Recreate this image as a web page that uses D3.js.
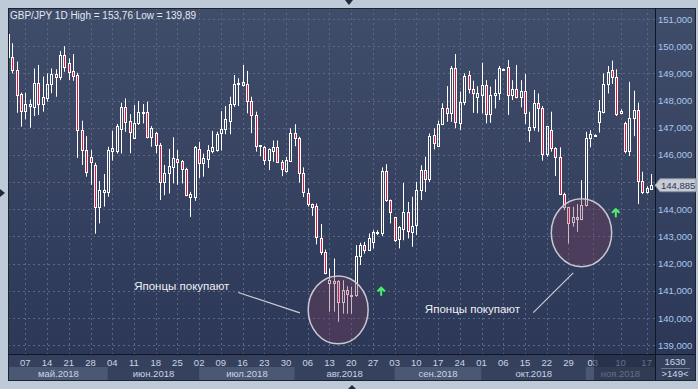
<!DOCTYPE html>
<html lang="ru">
<head>
<meta charset="UTF-8">
<title>GBP/JPY 1D</title>
<script src="https://d3js.org/d3.v7.min.js"></script>
<style>
    body {
        margin: 0;
        padding: 0;
        background-color: #bfcad8;
        overflow: hidden;
    }
    svg {
        display: block;
        font-family: 'Liberation Sans', Arial, sans-serif;
    }
</style>
</head>
<body>
<div id="chart"></div>
<script>
// daily candles, 1 May 2018 .. late Nov 2018
var opens = [150.45,149.59,149.12,148.24,147.63,147.80,147.77,148.66,147.87,148.08,
    148.61,148.98,148.85,149.67,149.37,149.08,148.94,146.91,146.17,145.91,
    145.63,144.07,144.65,144.65,146.15,146.15,146.94,147.75,147.26,146.64,
    147.16,147.59,147.57,146.67,146.79,146.38,144.99,145.34,145.56,145.85,
    145.77,145.50,144.46,144.46,146.20,145.72,145.85,146.16,146.18,146.82,
    146.94,147.26,147.87,148.61,148.57,148.61,147.99,147.47,146.34,146.28,
    145.83,146.16,146.28,145.75,145.42,145.79,146.82,146.64,145.32,144.61,
    144.19,144.12,142.93,142.43,141.27,141.27,141.35,140.59,141.02,140.85,
    140.84,142.28,142.70,142.52,142.80,143.13,143.13,145.42,144.34,143.70,
    142.89,143.29,143.91,143.17,143.42,144.70,145.44,145.10,146.73,146.33,
    147.13,147.71,147.53,149.18,147.16,147.96,148.94,148.41,148.12,148.20,
    148.57,147.50,148.20,148.29,149.16,149.22,148.20,148.41,148.12,148.35,
    146.91,147.01,147.92,147.71,146.03,146.91,146.24,145.93,144.58,144.07,
    143.54,143.72,143.63,144.15,146.61,146.74,147.22,147.59,148.61,149.12,
    148.85,147.53,147.18,146.15,147.34,147.65,145.05,144.64,144.73];
var highs = [150.50,150.11,149.43,148.29,148.29,148.04,149.18,149.31,148.88,149.00,
    149.18,149.15,149.82,150.00,149.55,149.71,149.02,147.26,146.69,146.18,
    145.71,145.04,145.30,146.30,146.89,147.14,147.92,148.08,147.50,147.83,
    147.98,147.87,147.96,147.06,146.85,146.44,145.63,146.22,146.65,146.18,
    145.81,145.53,144.64,146.33,146.48,146.05,146.36,146.88,146.85,147.61,
    147.80,148.14,148.94,148.82,149.31,149.09,148.14,147.59,146.36,146.33,
    146.24,146.53,146.53,145.81,145.93,146.98,147.13,146.67,145.54,144.77,
    144.21,144.21,143.46,142.52,141.82,142.19,141.39,141.39,141.17,141.15,
    142.68,142.77,142.80,143.11,143.23,143.23,145.54,145.66,144.36,143.72,
    143.38,144.97,144.27,144.46,145.01,145.62,145.93,146.79,146.98,147.26,
    147.90,148.53,149.27,149.71,148.33,149.00,149.09,148.73,148.53,149.39,
    148.75,148.51,148.78,149.27,149.18,149.49,148.75,149.31,148.75,148.98,
    147.59,148.39,148.26,147.80,147.06,147.59,146.28,146.28,144.61,144.09,
    144.09,144.19,145.07,146.85,146.91,146.76,148.02,149.00,149.27,149.47,
    149.15,147.68,147.22,148.69,148.36,147.92,145.38,144.85,145.30];
var lows = [149.50,149.00,147.55,147.04,147.31,147.00,147.43,147.47,147.59,147.96,
    148.27,148.14,148.75,149.06,148.75,148.73,145.89,145.63,145.20,144.90,
    143.10,143.48,144.10,144.46,145.79,146.05,146.05,146.85,146.06,146.63,
    147.10,147.16,146.61,146.30,146.06,144.34,144.52,144.58,144.95,144.90,
    144.95,144.48,143.72,144.31,145.15,145.20,145.52,146.06,146.12,146.16,
    146.76,146.76,147.77,147.80,148.51,147.53,146.80,146.12,145.95,145.63,
    145.44,145.75,145.72,145.22,145.35,145.75,146.32,144.98,144.45,144.10,
    143.76,142.71,142.32,141.61,140.23,140.23,139.86,140.16,140.16,140.16,
    140.78,141.95,142.37,142.50,142.56,143.05,143.01,144.28,143.48,142.80,
    142.56,142.86,142.93,142.62,143.05,144.34,144.64,145.01,146.20,146.30,
    147.10,147.22,147.22,146.98,146.91,147.83,148.26,147.55,147.53,147.53,
    147.16,147.18,147.71,148.02,149.12,147.47,148.02,148.08,147.75,147.13,
    146.48,146.89,146.85,145.79,145.93,146.12,145.22,144.56,143.97,142.74,
    143.36,143.17,143.60,144.10,146.28,146.72,146.82,147.53,148.26,148.61,
    147.43,147.50,146.06,145.96,146.69,144.19,144.56,144.58,144.71];
var closes = [149.60,149.12,148.19,147.63,147.87,147.87,148.63,147.87,148.14,148.61,
    148.98,148.85,149.67,149.25,149.06,148.91,146.91,146.17,145.38,145.75,
    144.07,144.70,144.70,146.18,146.24,147.06,147.75,147.22,146.85,147.16,
    147.59,147.57,146.67,146.98,146.38,144.99,145.34,145.59,145.87,145.75,
    145.50,144.52,144.56,146.28,145.72,145.87,146.18,146.28,146.77,146.94,
    147.31,147.87,148.61,148.63,148.67,147.99,147.47,146.34,146.36,145.83,
    146.20,146.28,145.75,145.47,145.81,146.82,146.61,145.32,144.64,144.19,
    144.09,142.99,142.42,141.64,141.39,141.35,140.59,141.02,140.90,140.84,
    142.28,142.70,142.52,142.93,143.17,143.15,145.42,144.34,143.91,142.86,
    143.33,143.91,143.21,143.38,144.70,145.44,145.10,146.69,146.42,147.13,
    147.71,147.53,149.18,147.22,147.96,148.90,148.41,148.26,148.26,148.57,
    147.50,148.20,148.29,149.18,149.14,148.20,148.41,148.14,148.35,147.55,
    147.01,147.92,147.71,146.03,147.06,146.24,145.93,144.58,144.07,143.48,
    143.72,143.63,144.15,146.64,146.77,146.74,147.61,148.61,149.06,148.85,
    147.50,147.63,146.15,147.34,147.65,145.05,144.64,144.79,144.885];

var priceTicks = [139, 140, 141, 142, 143, 144, 145, 146, 147, 148, 149, 150, 151];
var dayLabels = ["07","14","21","28","04","11","18","25","02","09","16","23","30",
    "06","13","20","27","03","10","17","24","01","06","15","22","29","03","10","17"];
var dayIndex = [4,9,14,19,24,29,34,39,44,49,54,59,64,69,74,79,84,89,94,99,104,
    109,114,119,124,129,134.6,141,147];
var months = ["май.2018","июн.2018","июл.2018","авг.2018","сен.2018","окт.2018","ноя.2018"];
var monthStart = [0.2, 23, 44, 66, 89, 109, 133];
var lastPrice = 144.885;

var W = 698, H = 389;
var L = 8, T = 8, R = 655, B = 354, RR = 695, BB = 380;

var svg = d3.select("#chart").append("svg")
    .attr("width", W)
    .attr("height", H);

var defs = svg.append("defs");
var grad = defs.append("linearGradient")
    .attr("id", "bg").attr("x1", 0).attr("y1", 0).attr("x2", 0).attr("y2", 1);
grad.append("stop").attr("offset", "0%").attr("stop-color", "#404d6a");
grad.append("stop").attr("offset", "100%").attr("stop-color", "#2b3656");
defs.append("clipPath").attr("id", "plot")
    .append("rect").attr("x", L + 1).attr("y", T + 1).attr("width", R - L - 1).attr("height", B - T - 1);

var x = d3.scaleLinear().domain([0, 148]).range([7.96, 651]);
var y = d3.scaleLinear().domain([139, 151]).range([345.2, 19]);

// frame
svg.append("rect")
    .attr("x", L + 0.5).attr("y", T + 0.5)
    .attr("width", RR - L).attr("height", BB - T)
    .attr("fill", "url(#bg)")
    .attr("stroke", "#1c2433");

// bottom axis
svg.append("rect")
    .attr("x", L + 1).attr("y", B + 1)
    .attr("width", RR - L - 1).attr("height", BB - B - 1)
    .attr("fill", "#35415c");

var bandTop = 367;
months.forEach(function (m, k) {
    var x0 = k === 0 ? L + 1 : x(monthStart[k]);
    var x1 = k === months.length - 1 ? R : x(monthStart[k + 1]);
    svg.append("rect")
        .attr("x", x0).attr("y", bandTop)
        .attr("width", x1 - x0).attr("height", BB - bandTop)
        .attr("fill", k % 2 === 0 ? "#4b5873" : "#36425d");
    svg.append("text")
        .attr("x", (x0 + x1) / 2).attr("y", 376.5)
        .attr("text-anchor", "middle")
        .attr("font-size", "9.5px")
        .attr("fill", "#c9d4e4")
        .text(m);
});

svg.selectAll(".day")
    .data(dayLabels)
    .enter()
    .append("text")
    .attr("class", "day")
    .attr("x", function (d, k) { return x(dayIndex[k]); })
    .attr("y", 365.5)
    .attr("text-anchor", "middle")
    .attr("font-size", "9.5px")
    .attr("fill", "#c9d4e4")
    .text(function (d) { return d; });

// dimmed tail of the time axis
svg.append("rect")
    .attr("x", 594).attr("y", B + 1)
    .attr("width", R - 594).attr("height", BB - B - 1)
    .attr("fill", "#1f2840").attr("opacity", 0.6);

// separators
svg.append("line").attr("x1", L).attr("x2", RR).attr("y1", B + 0.5).attr("y2", B + 0.5)
    .attr("stroke", "#0f1522");
svg.append("line").attr("x1", R + 0.5).attr("x2", R + 0.5).attr("y1", T).attr("y2", BB)
    .attr("stroke", "#0f1522");

// bottom right box
svg.append("text").attr("x", 675).attr("y", 365).attr("text-anchor", "middle")
    .attr("font-size", "9.5px").attr("fill", "#c9d4e4").text("1630");
svg.append("line").attr("x1", 661).attr("x2", 690).attr("y1", 368.5).attr("y2", 368.5)
    .attr("stroke", "#6b7891");
svg.append("text").attr("x", 675).attr("y", 377).attr("text-anchor", "middle")
    .attr("font-size", "9.5px").attr("fill", "#c9d4e4").text(">149<");

// grid
var plot = svg.append("g").attr("clip-path", "url(#plot)");
plot.selectAll(".hgrid")
    .data(priceTicks)
    .enter()
    .append("line")
    .attr("x1", L).attr("x2", R)
    .attr("y1", function (d) { return Math.round(y(d)) + 0.5; })
    .attr("y2", function (d) { return Math.round(y(d)) + 0.5; })
    .attr("stroke", "#5a6884")
    .attr("stroke-dasharray", "2,3");
plot.selectAll(".vgrid")
    .data(dayIndex)
    .enter()
    .append("line")
    .attr("x1", function (d) { return Math.round(x(d)) + 0.5; })
    .attr("x2", function (d) { return Math.round(x(d)) + 0.5; })
    .attr("y1", T).attr("y2", B)
    .attr("stroke", "#5a6884")
    .attr("stroke-dasharray", "2,3");

// candles
var candles = opens.map(function (o, i) {
    return { i: i, o: o, h: highs[i], l: lows[i], c: closes[i] };
});

var cg = plot.selectAll(".candle")
    .data(candles)
    .enter()
    .append("g")
    .attr("class", "candle");

function cx(d) { return Math.round(x(d.i)); }
function yTop(d) { return Math.round(y(Math.max(d.o, d.c))); }
function yBot(d) { return Math.max(Math.round(y(Math.min(d.o, d.c))), yTop(d) + 1); }

cg.append("line")
    .attr("x1", function (d) { return cx(d) + 0.5; })
    .attr("x2", function (d) { return cx(d) + 0.5; })
    .attr("y1", function (d) { return y(d.h); })
    .attr("y2", function (d) { return yTop(d) + 0.5; })
    .attr("stroke", "#ffffff");
cg.append("line")
    .attr("x1", function (d) { return cx(d) + 0.5; })
    .attr("x2", function (d) { return cx(d) + 0.5; })
    .attr("y1", function (d) { return yBot(d) + 0.5; })
    .attr("y2", function (d) { return y(d.l); })
    .attr("stroke", "#ffffff");
cg.append("rect")
    .attr("x", function (d) { return cx(d) - 0.5; })
    .attr("y", function (d) { return yTop(d) + 0.5; })
    .attr("width", 2)
    .attr("height", function (d) { return yBot(d) - yTop(d); })
    .attr("fill", function (d) { return d.c < d.o ? "#e8163c" : "none"; })
    .attr("stroke", "#ffffff");

// annotations: circles, captions, pointer lines, arrows (index / price units)
var rings = [{ i: 76, p: 140.3, ri: 6.9, rp: 1.25 }, { i: 132, p: 143.14, ri: 6.95, rp: 1.25 }];
plot.selectAll(".ring")
    .data(rings)
    .enter()
    .append("ellipse")
    .attr("cx", function (d) { return x(d.i); })
    .attr("cy", function (d) { return y(d.p); })
    .attr("rx", function (d) { return x(d.i + d.ri) - x(d.i); })
    .attr("ry", function (d) { return y(d.p - d.rp) - y(d.p); })
    .attr("fill", "rgba(118,62,92,0.36)")
    .attr("stroke", "#c9c7d2")
    .attr("stroke-width", 1.5);

var pointers = [{ i0: 53, p0: 140.94, i1: 67.2, p1: 140.19 }, { i0: 120.9, p0: 140.2, i1: 130.1, p1: 141.66 }];
plot.selectAll(".pointer")
    .data(pointers)
    .enter()
    .append("line")
    .attr("x1", function (d) { return x(d.i0); })
    .attr("y1", function (d) { return y(d.p0); })
    .attr("x2", function (d) { return x(d.i1); })
    .attr("y2", function (d) { return y(d.p1); })
    .attr("stroke", "#c9ccd6")
    .attr("stroke-width", 1.2);

var captions = [{ i: 40, p: 141.17, t: "Японцы покупают" }, { i: 106.9, p: 140.33, t: "Японцы покупают" }];
plot.selectAll(".caption")
    .data(captions)
    .enter()
    .append("text")
    .attr("x", function (d) { return x(d.i); })
    .attr("y", function (d) { return y(d.p) + 4; })
    .attr("text-anchor", "middle")
    .attr("font-size", "11.5px")
    .attr("fill", "#eef0f5")
    .text(function (d) { return d.t; });

var arrows = [{ i: 85.9, p: 141.17 }, { i: 139.9, p: 144.06 }];
plot.selectAll(".arrow")
    .data(arrows)
    .enter()
    .append("path")
    .attr("d", function (d) {
        var ax = x(d.i), ay = y(d.p);
        return "M" + ax + "," + ay + " l4.5,4.5 l-1.6,1.4 l-1.9,-1.9 v5.5 h-2 v-5.5 l-1.9,1.9 l-1.6,-1.4 z";
    })
    .attr("fill", "#4cf06a");

// price axis (the label under the last-price tag is hidden)
var ly = y(lastPrice);
svg.selectAll(".price")
    .data(priceTicks.filter(function (d) { return Math.abs(y(d) - ly) > 10; }))
    .enter()
    .append("text")
    .attr("x", 658)
    .attr("y", function (d) { return y(d) + 3.5; })
    .attr("font-size", "9.5px")
    .attr("fill", "#a9c8ee")
    .text(function (d) { return d3.format(",.3f")(d).replace(".", ","); });

svg.append("path")
    .attr("d", "M655," + ly + " L660," + (ly - 6.5) + " H696 V" + (ly + 6.5) + " H660 Z")
    .attr("fill", "#c6cbd4")
    .attr("stroke", "#8a93a4");
svg.append("text")
    .attr("x", 661).attr("y", ly + 3.5)
    .attr("font-size", "9.5px")
    .attr("fill", "#2c3752")
    .text(d3.format(".3f")(lastPrice).replace(".", ","));

// title
svg.append("text")
    .attr("x", 10).attr("y", 18.5)
    .attr("font-size", "10px")
    .attr("fill", "#e4e8f0")
    .text("GBP/JPY 1D High = 153,76 Low = 139,89");

// scroll markers
svg.append("path").attr("d", "M345,0 L353,0 L349,5 Z").attr("fill", "#1f2a3c");
svg.append("path").attr("d", "M0,189 L5,193 L0,197 Z").attr("fill", "#1f2a3c");
svg.append("path").attr("d", "M348,389 L352,385 L356,389 Z").attr("fill", "#1f2a3c");
</script>
</body>
</html>
